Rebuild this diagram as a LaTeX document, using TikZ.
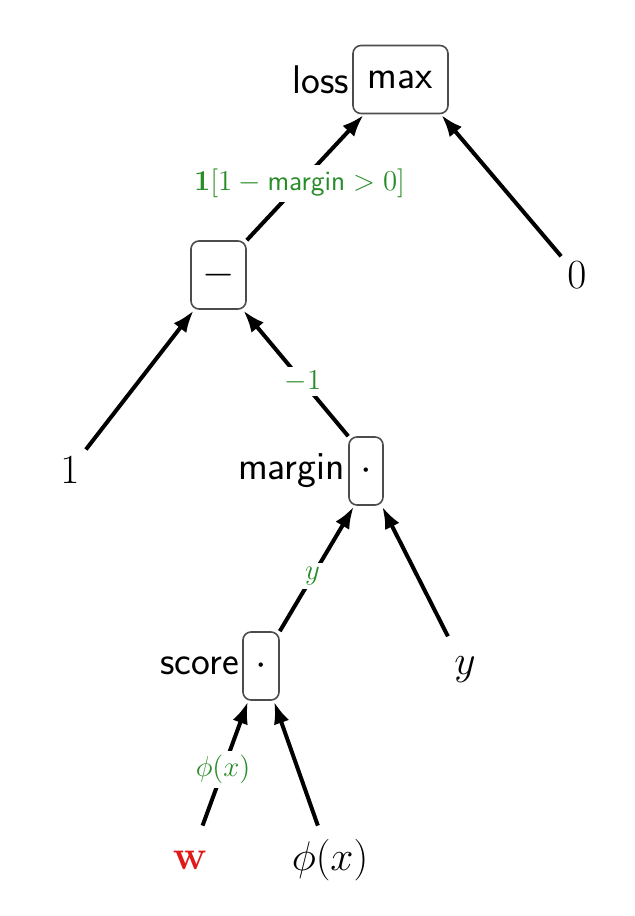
\documentclass[tikz,border=0pt]{standalone}
\usetikzlibrary{arrows.meta}
\definecolor{lblgreen}{RGB}{40,140,40}
\definecolor{wred}{RGB}{225,25,25}
\begin{document}
\begin{tikzpicture}[x=0.5pt,y=-0.5pt,
 box/.style={draw=black!70, line width=0.8pt, rounded corners=4pt, minimum height=34pt, inner sep=0pt, font=\fontsize{20}{24}\selectfont\sffamily},
 side/.style={anchor=east, inner sep=1.5pt, font=\fontsize{20}{24}\selectfont\sffamily},
 leaf/.style={inner sep=3pt, font=\fontsize{20}{24}\selectfont},
 arr/.style={line width=2pt, -{Latex[length=11pt,width=8pt]}, shorten >=0.5pt},
 elab/.style={fill=white, text=lblgreen, inner sep=2pt, font=\fontsize{14}{16}\selectfont}]
\useasboundingbox (0,0) rectangle (634,916);
\node[box, minimum width=47.5pt] (max) at (400.5,79.5) {max};
\node[side] (losst) at (max.west) {loss};
\node[box, minimum width=27.5pt] (minus) at (218.5,275) {$-$};
\node[box, minimum width=17pt] (mult) at (366,471) {$\cdot$};
\node[side] (margint) at (mult.west) {margin};
\node[box, minimum width=18pt] (score) at (261,666) {$\cdot$};
\node[side] (scoret) at (score.west) {score};
\node[leaf, minimum height=20pt] (zero) at (577,275) {$0$};
\node[leaf, minimum height=22pt] (one) at (70,470) {$1$};
\node[leaf, minimum height=35pt] (yy) at (465,670) {$y$};
\node[leaf, minimum height=34pt, text=wred] (w) at (190,860) {$\mathbf{w}$};
\node[leaf, minimum height=34pt] (phi) at (330,860) {$\phi(x)$};
\draw[arr] (zero) -- ([xshift=-4pt]max.south east);
\draw[arr] (minus.north east) -- node[elab, pos=0.45] (l1) {$\mathbf{1}[1-\textsf{margin}>0]$} ([xshift=6pt]max.south west);
\draw[arr] (one) -- ([xshift=2pt]minus.south west);
\draw[arr] (mult.north west) -- node[elab, pos=0.43] (l2) {$-1$} ([xshift=-2pt]minus.south east);
\draw[arr] (yy) -- ([xshift=-1pt]mult.south east);
\draw[arr] (score.north east) -- node[elab, pos=0.44] (l3) {$y$} ([xshift=3pt]mult.south west);
\draw[arr] (w) -- node[elab, pos=0.45] (l4) {$\phi(x)$} ([xshift=3pt]score.south west);
\draw[arr] (phi) -- ([xshift=-3pt]score.south east);
\end{tikzpicture}
\end{document}
